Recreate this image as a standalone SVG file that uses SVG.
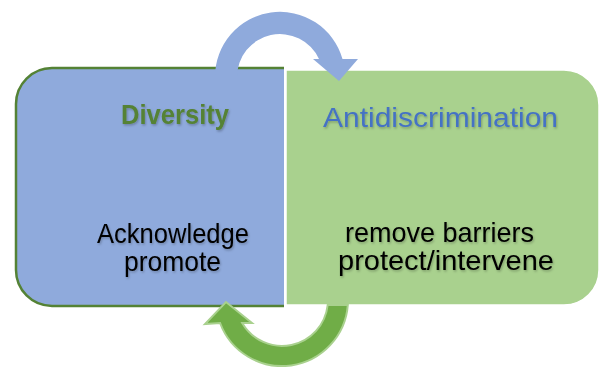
<svg xmlns="http://www.w3.org/2000/svg" width="600" height="367" viewBox="0 0 600 367">
<defs>
<filter id="sh" x="-10%" y="-30%" width="120%" height="160%">
<feDropShadow dx="1" dy="1.5" stdDeviation="1" flood-color="#000" flood-opacity="0.25"/>
</filter>
</defs>
<style>
text{font-family:"Liberation Sans",Arial,sans-serif;filter:url(#sh)}
.h{font-size:28px}
.b{font-size:28px;fill:#000}
</style>
<rect width="600" height="367" fill="#fff"/>
<g id="diversity">
<path d="M284,68 H52 A36,36 0 0 0 16,104 V270 A36,36 0 0 0 52,306 H284 Z" fill="#8FAADC"/>
<path d="M284,68 H52 A36,36 0 0 0 16,104 V270 A36,36 0 0 0 52,306 H284" fill="none" stroke="#548235" stroke-width="2.5"/>
<text class="h" x="121" y="124" fill="#548235" font-weight="bold" textLength="108" lengthAdjust="spacingAndGlyphs">Diversity</text>
<text class="b" x="97" y="243" textLength="152" lengthAdjust="spacingAndGlyphs">Acknowledge</text>
<text class="b" x="124" y="271" textLength="97" lengthAdjust="spacingAndGlyphs">promote</text>
</g>
<g id="antidiscrimination">
<path d="M286,70 H564 A35,35 0 0 1 599,105 V270 A35,35 0 0 1 564,305 H286 Z" fill="#A9D18E" stroke="#fff" stroke-width="1.5"/>
<text class="h" x="323" y="127" fill="#4472C4" textLength="235" lengthAdjust="spacingAndGlyphs">Antidiscrimination</text>
<text class="b" x="345" y="242" textLength="189" lengthAdjust="spacingAndGlyphs">remove barriers</text>
<text class="b" x="338" y="270" textLength="216" lengthAdjust="spacingAndGlyphs">protect/intervene</text>
</g>
<g id="connectors">
<path d="M215,80 V77 A65,65 0 0 1 342.5,59 L358,59 L339,81 L313,59 L319,59 A43,43 0 0 0 237,77 V80 Z" fill="#8FAADC"/>
<path d="M347.8,305 A66,66 0 0 1 220.1,323 L205,324 L226,302 L252,323 L242.2,323 A46,46 0 0 0 327.7,305 Z" fill="#70AD47" stroke="#A9D18E" stroke-width="2" stroke-linejoin="miter"/>
</g>
</svg>
